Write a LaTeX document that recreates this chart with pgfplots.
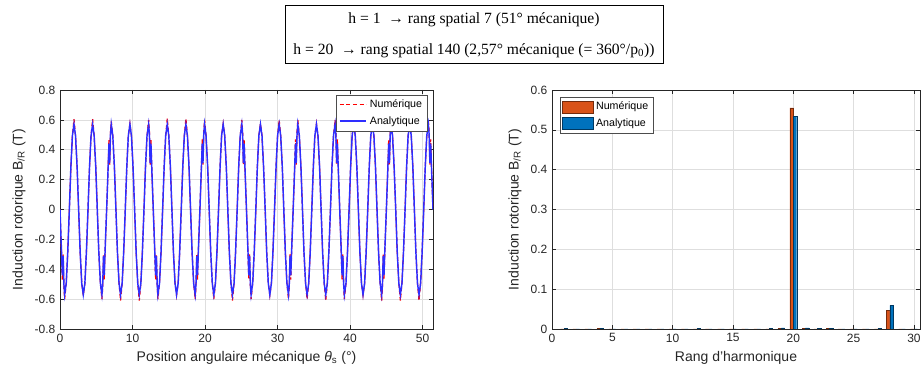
\documentclass[border=0pt]{standalone}
\usepackage{fontspec}
\setmainfont{Liberation Sans}
\newfontfamily\serifbox{Liberation Serif}
\usepackage{pgfplots}
\pgfplotsset{compat=1.18}
\usepackage{pgfplotstable}
\definecolor{mred}{rgb}{0.85,0.325,0.098}
\definecolor{mredE}{rgb}{0.45,0.17,0.05}
\definecolor{mblue}{rgb}{0,0.447,0.741}
\definecolor{mblueE}{rgb}{0,0.22,0.38}
\definecolor{axgray}{rgb}{0.15,0.15,0.15}
\definecolor{lineblue}{rgb}{0.18,0.18,1}

\pgfplotstableread{
x n a
0.00 0 0
0.21 -0.285 -0.285
0.32 -0.47 -0.44
0.43 -0.30 -0.31
0.54 -0.52 -0.50
0.64 -0.60 -0.57
0.86 -0.494 -0.494
1.07 -0.285 -0.285
1.29 0 0
1.50 0.285 0.285
1.71 0.494 0.494
1.93 0.605 0.57
2.14 0.494 0.494
2.36 0.285 0.285
2.57 0 0
2.78 -0.285 -0.285
3.00 -0.494 -0.494
3.21 -0.575 -0.57
3.43 -0.494 -0.494
3.64 -0.285 -0.285
3.86 0 0
4.07 0.285 0.285
4.28 0.494 0.494
4.50 0.605 0.57
4.71 0.494 0.494
4.93 0.285 0.285
5.14 0 0
5.35 -0.285 -0.285
5.57 -0.494 -0.494
5.78 -0.60 -0.57
5.89 -0.52 -0.50
6.00 -0.30 -0.31
6.10 -0.47 -0.44
6.21 -0.285 -0.285
6.43 0 0
6.64 0.285 0.285
6.75 0.47 0.44
6.85 0.30 0.31
6.96 0.52 0.50
7.07 0.59 0.57
7.28 0.494 0.494
7.50 0.285 0.285
7.71 0 0
7.92 -0.285 -0.285
8.14 -0.494 -0.494
8.35 -0.61 -0.57
8.57 -0.494 -0.494
8.78 -0.285 -0.285
9.00 0 0
9.21 0.285 0.285
9.42 0.494 0.494
9.64 0.575 0.57
9.85 0.494 0.494
10.07 0.285 0.285
10.29 0 0
10.50 -0.285 -0.285
10.72 -0.494 -0.494
10.93 -0.61 -0.57
11.15 -0.494 -0.494
11.36 -0.285 -0.285
11.58 0 0
11.79 0.285 0.285
12.00 0.494 0.494
12.22 0.60 0.57
12.33 0.52 0.50
12.43 0.30 0.31
12.54 0.47 0.44
12.65 0.285 0.285
12.86 0 0
13.07 -0.285 -0.285
13.18 -0.47 -0.44
13.29 -0.30 -0.31
13.40 -0.52 -0.50
13.50 -0.60 -0.57
13.72 -0.494 -0.494
13.93 -0.285 -0.285
14.15 0 0
14.36 0.285 0.285
14.57 0.494 0.494
14.79 0.61 0.57
15.00 0.494 0.494
15.22 0.285 0.285
15.43 0 0
15.64 -0.285 -0.285
15.86 -0.494 -0.494
16.07 -0.575 -0.57
16.29 -0.494 -0.494
16.50 -0.285 -0.285
16.72 0 0
16.93 0.285 0.285
17.14 0.494 0.494
17.36 0.61 0.57
17.57 0.494 0.494
17.79 0.285 0.285
18.00 0 0
18.21 -0.285 -0.285
18.43 -0.494 -0.494
18.64 -0.60 -0.57
18.75 -0.52 -0.50
18.86 -0.30 -0.31
18.96 -0.47 -0.44
19.07 -0.285 -0.285
19.29 0 0
19.50 0.285 0.285
19.61 0.47 0.44
19.71 0.30 0.31
19.82 0.52 0.50
19.93 0.60 0.57
20.14 0.494 0.494
20.36 0.285 0.285
20.57 0 0
20.78 -0.285 -0.285
21.00 -0.494 -0.494
21.21 -0.60 -0.57
21.43 -0.494 -0.494
21.64 -0.285 -0.285
21.86 0 0
22.07 0.285 0.285
22.28 0.494 0.494
22.50 0.575 0.57
22.71 0.494 0.494
22.93 0.285 0.285
23.14 0 0
23.35 -0.285 -0.285
23.57 -0.494 -0.494
23.78 -0.61 -0.57
24.00 -0.494 -0.494
24.21 -0.285 -0.285
24.43 0 0
24.64 0.285 0.285
24.85 0.494 0.494
25.07 0.60 0.57
25.18 0.52 0.50
25.28 0.30 0.31
25.39 0.47 0.44
25.50 0.285 0.285
25.71 0 0
25.92 -0.285 -0.285
26.03 -0.47 -0.44
26.14 -0.30 -0.31
26.25 -0.52 -0.50
26.35 -0.60 -0.57
26.57 -0.494 -0.494
26.78 -0.285 -0.285
27.00 0 0
27.21 0.285 0.285
27.42 0.494 0.494
27.64 0.575 0.57
27.85 0.494 0.494
28.07 0.285 0.285
28.29 0 0
28.50 -0.285 -0.285
28.72 -0.494 -0.494
28.93 -0.575 -0.57
29.15 -0.494 -0.494
29.36 -0.285 -0.285
29.58 0 0
29.79 0.285 0.285
30.00 0.494 0.494
30.22 0.60 0.57
30.43 0.494 0.494
30.65 0.285 0.285
30.86 0 0
31.07 -0.285 -0.285
31.29 -0.494 -0.494
31.50 -0.60 -0.57
31.61 -0.52 -0.50
31.72 -0.30 -0.31
31.82 -0.47 -0.44
31.93 -0.285 -0.285
32.15 0 0
32.36 0.285 0.285
32.47 0.47 0.44
32.57 0.30 0.31
32.68 0.52 0.50
32.79 0.60 0.57
33.00 0.494 0.494
33.22 0.285 0.285
33.43 0 0
33.64 -0.285 -0.285
33.86 -0.494 -0.494
34.07 -0.60 -0.57
34.29 -0.494 -0.494
34.50 -0.285 -0.285
34.72 0 0
34.93 0.285 0.285
35.14 0.494 0.494
35.36 0.575 0.57
35.57 0.494 0.494
35.79 0.285 0.285
36.00 0 0
36.21 -0.285 -0.285
36.43 -0.494 -0.494
36.64 -0.61 -0.57
36.86 -0.494 -0.494
37.07 -0.285 -0.285
37.29 0 0
37.50 0.285 0.285
37.71 0.494 0.494
37.93 0.60 0.57
38.04 0.52 0.50
38.14 0.30 0.31
38.25 0.47 0.44
38.36 0.285 0.285
38.57 0 0
38.78 -0.285 -0.285
38.89 -0.47 -0.44
39.00 -0.30 -0.31
39.11 -0.52 -0.50
39.21 -0.60 -0.57
39.43 -0.494 -0.494
39.64 -0.285 -0.285
39.86 0 0
40.07 0.285 0.285
40.28 0.494 0.494
40.50 0.60 0.57
40.71 0.494 0.494
40.93 0.285 0.285
41.14 0 0
41.35 -0.285 -0.285
41.57 -0.494 -0.494
41.78 -0.575 -0.57
42.00 -0.494 -0.494
42.21 -0.285 -0.285
42.43 0 0
42.64 0.285 0.285
42.85 0.494 0.494
43.07 0.60 0.57
43.28 0.494 0.494
43.50 0.285 0.285
43.71 0 0
43.92 -0.285 -0.285
44.14 -0.494 -0.494
44.35 -0.61 -0.57
44.46 -0.52 -0.50
44.57 -0.30 -0.31
44.67 -0.47 -0.44
44.78 -0.285 -0.285
45.00 0 0
45.21 0.285 0.285
45.32 0.47 0.44
45.42 0.30 0.31
45.53 0.52 0.50
45.64 0.60 0.57
45.85 0.494 0.494
46.07 0.285 0.285
46.29 0 0
46.50 -0.285 -0.285
46.72 -0.494 -0.494
46.93 -0.61 -0.57
47.15 -0.494 -0.494
47.36 -0.285 -0.285
47.58 0 0
47.79 0.285 0.285
48.00 0.494 0.494
48.22 0.575 0.57
48.43 0.494 0.494
48.65 0.285 0.285
48.86 0 0
49.07 -0.285 -0.285
49.29 -0.494 -0.494
49.50 -0.61 -0.57
49.72 -0.494 -0.494
49.93 -0.285 -0.285
50.15 0 0
50.36 0.285 0.285
50.57 0.494 0.494
50.79 0.60 0.57
50.90 0.52 0.50
51.00 0.30 0.31
51.11 0.47 0.44
51.22 0.285 0.285
51.43 0 0
}\wavedata

\pgfplotstableread{
h n a
1 0.0005 0.0008
2 0.0003 0.0005
3 0.0005 0.0005
4 0.0008 0.0010
5 0.0005 0.0005
6 0.0004 0.0005
7 0.0005 0.0006
8 0.0004 0.0005
9 0.0005 0.0005
10 0.0004 0.0005
11 0.0005 0.0005
12 0.0006 0.0008
13 0.0004 0.0005
14 0.0005 0.0005
15 0.0004 0.0005
16 0.0005 0.0005
17 0.0004 0.0006
18 0.0006 0.0010
19 0.0010 0.0030
20 0.555 0.533
21 0.0010 0.0030
22 0.0005 0.0015
23 0.0008 0.0010
24 0.0004 0.0005
25 0.0005 0.0005
26 0.0004 0.0005
27 0.0005 0.0008
28 0.047 0.059
29 0.0005 0.0005
30 0.0005 0.0005
}\specdata

\pgfplotsset{
  matlab/.style={
    scale only axis,
    axis line style={axgray, line width=0.5pt},
    every tick/.style={axgray, line width=0.5pt},
    tick align=inside,
    major tick length=3pt,
    grid=major,
    major grid style={black!13, line width=0.4pt},
    tick label style={font=\fontsize{9}{10}\selectfont, text=axgray},
    label style={font=\fontsize{10.5}{12}\selectfont, text=axgray},
    /pgf/number format/assume math mode=true,
    legend cell align=left,
    legend style={font=\fontsize{8}{9}\selectfont,
      inner sep=1.5pt, row sep=1pt, fill=white},
  }
}

\begin{document}
\begin{tikzpicture}[x=1pt,y=1pt]
\useasboundingbox (0,0) rectangle (692.25,280.5);
\draw[line width=0.6pt] (213.75,233.25) rectangle (497.25,276.75);
\node[font=\serifbox\fontsize{11.7}{13}\selectfont] at (355.5,265.5) {h = 1\enspace→ rang spatial 7 (51° mécanique)};
\node[font=\serifbox\fontsize{11.7}{13}\selectfont] at (355.5,242.5) {h = 20\enspace→ rang spatial 140 (2,57° mécanique (= 360°/p\textsubscript{0}))};

\begin{axis}[matlab,
  at={(45pt,33.75pt)}, anchor=south west,
  width=279.75pt, height=179.25pt,
  xmin=0, xmax=51.43, ymin=-0.8, ymax=0.8,
  xtick={0,10,20,30,40,50},
  ytick={-0.8,-0.6,-0.4,-0.2,0,0.2,0.4,0.6,0.8},
  xlabel={Position angulaire mécanique {\itshape θ}\textsubscript{s} (°)},
  ylabel={Induction rotorique B\textsubscript{/R} (T)},
  legend style={at={(0.984,0.979)}, anchor=north east, draw=black!70},
  legend image code/.code={\draw[#1] (0pt,0pt) -- (20pt,0pt);},
]
\addlegendimage{draw=red, line width=0.9pt, dash pattern=on 3pt off 2pt}
\addlegendentry{Numérique}
\addlegendimage{draw=lineblue, line width=1.5pt}
\addlegendentry{Analytique}
\addplot[draw=red, line width=0.9pt, dash pattern=on 3pt off 2pt, forget plot] table[x=x, y=n] {\wavedata};
\addplot[draw=lineblue, line width=1.1pt, forget plot] table[x=x, y=a] {\wavedata};
\end{axis}

\begin{axis}[matlab,
  at={(414pt,33.75pt)}, anchor=south west,
  width=276pt, height=179.25pt,
  xmin=0, xmax=30.5, ymin=0, ymax=0.6,
  xtick={0,5,10,15,20,25,30},
  ytick={0,0.1,0.2,0.3,0.4,0.5,0.6},
  xlabel={Rang d'harmonique},
  ylabel={Induction rotorique B\textsubscript{/R} (T)},
  legend style={at={(0.022,0.971)}, anchor=north west, draw=black!70},
]
\addplot[ybar, bar width=0.28, bar shift=-0.14, fill=mred, draw=mredE, line width=0.3pt,
  legend image code/.code={\draw[fill=mred, draw=mredE, line width=0.3pt] (0pt,-4.5pt) rectangle (23pt,4.5pt);}] table[x=h, y=n] {\specdata};
\addlegendentry{Numérique}
\addplot[ybar, bar width=0.28, bar shift=0.14, fill=mblue, draw=mblueE, line width=0.3pt,
  legend image code/.code={\draw[fill=mblue, draw=mblueE, line width=0.3pt] (0pt,-4.5pt) rectangle (23pt,4.5pt);}] table[x=h, y=a] {\specdata};
\addlegendentry{Analytique}
\end{axis}
\end{tikzpicture}
\end{document}
